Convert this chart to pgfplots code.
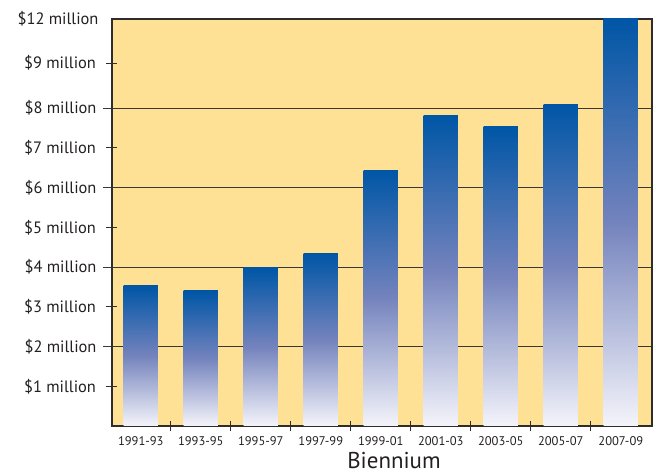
\documentclass[border=0pt]{standalone}
\usepackage{fontspec}
\setmainfont{PT Sans}
\usepackage{pgfplots}
\pgfplotsset{compat=1.18}
\definecolor{bgyellow}{HTML}{FEE194}
\definecolor{framegray}{HTML}{2E2C2C}
\definecolor{gridgray}{HTML}{3A3836}
\definecolor{barTop}{HTML}{0056A6}
\definecolor{barMid}{HTML}{7483BD}
\definecolor{barBot}{HTML}{F4F4FA}
\definecolor{txt}{HTML}{231F20}

% one bar per plot, so that each bar gets its own gradient
% (middle color has to come after top and bottom color)
\pgfplotsset{gbar/.style={ybar, bar width=0.57, bar shift=0pt, draw=none,
    top color=barTop, bottom color=barBot, middle color=barMid}}

\begin{document}
\begin{tikzpicture}
\begin{axis}[
    name=ax,
    scale only axis,
    width=540bp, height=407bp,
    xmin=-0.48, xmax=8.52,
    ymin=0, ymax=10.24,
    clip=false,
    axis background/.style={fill=bgyellow},
    axis line style={draw=framegray, line width=1.5pt},
    xtick pos=bottom, ytick pos=left,
    % categories at 0..8, separator ticks between them
    xtick={0,...,8},
    xticklabels={1991-93,1993-95,1995-97,1997-99,1999-01,2001-03,2003-05,2005-07,2007-09},
    major x tick style={draw=none},
    extra x ticks={0.5,1.5,...,7.5},
    extra x tick labels={},
    extra x tick style={major x tick style={draw=framegray, line width=0.8pt},
        major tick length=10bp, tick align=center},
    xticklabel style={font=\fontsize{12.6}{14}\selectfont, text=txt, yshift=2bp},
    % the value axis is not linear above $8 million
    ytick={2,4,6,8},
    yticklabels={\$2 million,\$4 million,\$6 million,\$8 million},
    ymajorgrids,
    major grid style={draw=gridgray, line width=0.9pt},
    major y tick style={draw=gridgray, line width=0.9pt},
    major tick length=9bp,
    tick align=outside,
    extra y ticks={1,3,5,7,9.13},
    extra y tick labels={\$1 million,\$3 million,\$5 million,\$7 million,\$9 million},
    extra y tick style={grid=none, major tick length=11bp, tick align=center,
        major y tick style={draw=framegray, line width=0.8pt},
        yticklabel style={xshift=-4bp}},
    yticklabel style={font=\fontsize{16.5}{19}\selectfont, text=txt, xshift=-3bp},
    xlabel={Biennium},
    xlabel style={font=\fontsize{23}{26}\selectfont, text=txt, inner sep=0pt,
        xshift=12bp, yshift=11bp},
]
\addplot[gbar] coordinates {(0,3.53)};
\addplot[gbar] coordinates {(1,3.40)};
\addplot[gbar] coordinates {(2,3.98)};
\addplot[gbar] coordinates {(3,4.33)};
\addplot[gbar] coordinates {(4,6.44)};
\addplot[gbar] coordinates {(5,7.80)};
\addplot[gbar] coordinates {(6,7.53)};
\addplot[gbar] coordinates {(7,8.10)};
\addplot[gbar] coordinates {(8,10.24)};
\node[anchor=east, font=\fontsize{16.5}{19}\selectfont, text=txt]
    at ([xshift=-10bp]rel axis cs:0,1) {\$12 million};
\end{axis}
\pgfresetboundingbox
\path ([xshift=-112bp,yshift=-48bp]ax.south west) rectangle ([xshift=4bp,yshift=19bp]ax.north east);
\end{tikzpicture}
\end{document}
